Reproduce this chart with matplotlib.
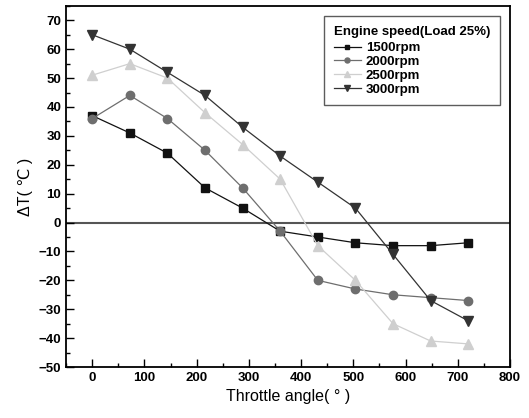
import matplotlib.pyplot as plt
from matplotlib.ticker import MultipleLocator

plt.rcParams['font.family'] = ['Liberation Sans', 'DejaVu Sans']

# Throttle angle and temperature difference per engine speed
angle = [0, 72, 144, 216, 288, 360, 432, 504, 576, 648, 720]
dt_1500 = [37, 31, 24, 12, 5, -3, -5, -7, -8, -8, -7]
dt_2000 = [36, 44, 36, 25, 12, -3, -20, -23, -25, -26, -27]
dt_2500 = [51, 55, 50, 38, 27, 15, -8, -20, -35, -41, -42]
dt_3000 = [65, 60, 52, 44, 33, 23, 14, 5, -11, -27, -34]
labels = ['1500rpm', '2000rpm', '2500rpm', '3000rpm']

fig = plt.figure(figsize=(5.29, 4.18), dpi=100)
ax = fig.add_axes([0.125, 0.122, 0.839, 0.864])

ax.axhline(0, color='#555555', linewidth=1.5, zorder=1)

ax.plot(angle, dt_1500, color='#111111', marker='s', markersize=6, linewidth=0.9, label=labels[0])
ax.plot(angle, dt_2000, color='#6e6e6e', marker='o', markersize=6, linewidth=0.9, label=labels[1])
ax.plot(angle, dt_2500, color='#cfcfcf', marker='^', markersize=7, linewidth=0.9, label=labels[2])
ax.plot(angle, dt_3000, color='#333333', marker='v', markersize=7, linewidth=0.9, label=labels[3])

ax.set_xlim(-50, 800)
ax.set_ylim(-50, 75)
ax.xaxis.set_major_locator(MultipleLocator(100))
ax.xaxis.set_minor_locator(MultipleLocator(50))
ax.yaxis.set_major_locator(MultipleLocator(10))
ax.yaxis.set_minor_locator(MultipleLocator(5))
ax.tick_params(which='major', direction='in', length=6, width=1)
ax.tick_params(which='minor', direction='in', length=3, width=1)
for lab in ax.get_xticklabels() + ax.get_yticklabels():
    lab.set_fontweight('bold')
    lab.set_fontsize(9.5)
for s in ax.spines.values():
    s.set_linewidth(1.3)

ax.set_xlabel('Throttle angle( ° )', fontsize=11.5)
ax.set_ylabel('ΔT( ℃ )', fontsize=11.5)

leg = ax.legend(title='Engine speed(Load 25%)', loc='upper right',
                bbox_to_anchor=(0.993, 0.99), fancybox=False, edgecolor='#333333',
                prop={'weight': 'bold', 'size': 9.5}, title_fontproperties={'weight': 'bold', 'size': 9.5},
                handlelength=2.0, labelspacing=0.12, borderpad=0.4, markerscale=0.6,
                handletextpad=0.4)
leg._legend_box.align = 'left'
leg._legend_box.pad = 7
leg._legend_box.sep = 3
leg.get_frame().set_linewidth(1)

plt.savefig('out.png', dpi=100)
plt.close()
